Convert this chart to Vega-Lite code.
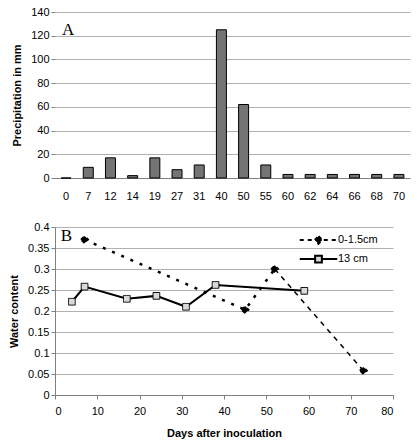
{
  "$schema": "https://vega.github.io/schema/vega-lite/v6.json",
  "padding": {"left": 8, "top": 6, "right": 5, "bottom": 5},
  "background": "white",
  "spacing": 20,
  "resolve": {"scale": {"strokeDash": "independent"}, "legend": {"strokeDash": "independent"}},
  "config": {
    "view": {"stroke": null},
    "font": "Liberation Sans",
    "axis": {
      "labelFont": "Liberation Sans",
      "labelFontSize": 11,
      "labelColor": "black",
      "titleFont": "Liberation Sans",
      "titleFontSize": 11,
      "titleFontWeight": "bold",
      "titleColor": "black",
      "gridColor": "#b0b0b0",
      "domainColor": "#808080",
      "tickColor": "#808080",
      "tickSize": 4
    },
    "legend": {"labelFont": "Liberation Sans", "labelFontSize": 11, "labelColor": "black", "padding": 0}
  },
  "datasets": {
    "precip": [
      {"day": 0, "mm": 0}, {"day": 7, "mm": 9}, {"day": 12, "mm": 17}, {"day": 14, "mm": 2},
      {"day": 19, "mm": 17}, {"day": 27, "mm": 7}, {"day": 31, "mm": 11}, {"day": 40, "mm": 125},
      {"day": 50, "mm": 62}, {"day": 55, "mm": 11}, {"day": 60, "mm": 3}, {"day": 62, "mm": 3},
      {"day": 64, "mm": 3}, {"day": 66, "mm": 3}, {"day": 68, "mm": 3}, {"day": 70, "mm": 3}
    ],
    "water": [
      {"series": "0-1.5cm", "day": 7, "wc": 0.37},
      {"series": "0-1.5cm", "day": 45, "wc": 0.203},
      {"series": "0-1.5cm", "day": 52, "wc": 0.3},
      {"series": "0-1.5cm", "day": 73, "wc": 0.058},
      {"series": "13 cm", "day": 4, "wc": 0.222},
      {"series": "13 cm", "day": 7, "wc": 0.258},
      {"series": "13 cm", "day": 17, "wc": 0.229},
      {"series": "13 cm", "day": 24, "wc": 0.236},
      {"series": "13 cm", "day": 31, "wc": 0.21},
      {"series": "13 cm", "day": 38, "wc": 0.262},
      {"series": "13 cm", "day": 59, "wc": 0.248}
    ]
  },
  "vconcat": [
    {
      "width": 355,
      "height": 166,
      "encoding": {
        "x": {"field": "day", "type": "ordinal",
              "scale": {"paddingInner": 0.55, "paddingOuter": 0.275},
              "axis": {"title": null, "labelAngle": 0, "labelPadding": 12, "ticks": false}},
        "y": {"field": "mm", "type": "quantitative",
              "scale": {"domain": [0, 140]},
              "axis": {"title": "Precipitation in mm", "values": [0, 20, 40, 60, 80, 100, 120, 140], "domain": false, "titlePadding": 8}}
      },
      "layer": [
        {
          "data": {"name": "precip"},
          "mark": {"type": "bar", "fill": "#747474", "stroke": "black", "strokeWidth": 1}
        },
        {
          "data": {"values": [{"day": 0, "mm": 121, "label": "A"}]},
          "mark": {"type": "text", "font": "Liberation Serif", "fontSize": 17, "align": "center", "dx": 2, "baseline": "alphabetic"},
          "encoding": {
            "text": {"field": "label"}
          }
        }
      ]
    },
    {
      "width": 338,
      "height": 168,
      "resolve": {"scale": {"strokeDash": "independent"}, "legend": {"strokeDash": "independent"}},
      "encoding": {
        "x": {"field": "day", "type": "quantitative",
              "scale": {"domain": [0, 80]},
              "axis": {"title": "Days after inoculation", "values": [0, 10, 20, 30, 40, 50, 60, 70, 80], "grid": false, "labelPadding": 6, "titlePadding": 11}},
        "y": {"field": "wc", "type": "quantitative",
              "scale": {"domain": [0, 0.4]},
              "axis": {"title": "Water content", "values": [0, 0.05, 0.1, 0.15, 0.2, 0.25, 0.3, 0.35, 0.4], "format": "~f", "titlePadding": 8}}
      },
      "layer": [
        {
          "data": {"name": "water"},
          "transform": [{"filter": "datum.series === '13 cm'"}],
          "mark": {"type": "line", "color": "black", "strokeWidth": 2}
        },
        {
          "data": {"name": "water"},
          "transform": [{"filter": "datum.series === '0-1.5cm' && datum.day <= 52"}],
          "mark": {"type": "line", "color": "black", "strokeWidth": 2.5, "strokeDash": [3, 7]}
        },
        {
          "data": {"name": "water"},
          "transform": [{"filter": "datum.series === '0-1.5cm' && datum.day >= 52"}],
          "mark": {"type": "line", "color": "black", "strokeWidth": 1.5, "strokeDash": [5, 5]}
        },
        {
          "data": {"name": "water"},
          "transform": [{"filter": "datum.series === '0-1.5cm'"}],
          "mark": {"type": "point", "shape": "diamond", "filled": true, "fill": "black", "stroke": "black", "strokeWidth": 1.5, "size": 55, "opacity": 1},
          "encoding": {
            "strokeDash": {"datum": "0-1.5cm", "type": "nominal",
                           "scale": {"domain": ["0-1.5cm"], "range": [[4, 4]]},
                           "legend": {
                             "title": null,
                             "orient": "none",
                             "legendX": 255,
                             "legendY": 4.5,
                             "symbolType": "M-2.5,0H2.5M0,-0.5L0.5,0L0,0.5L-0.5,0Z",
                             "symbolSize": 225,
                             "symbolStrokeWidth": 2,
                             "labelOffset": 11
                           }}
          }
        },
        {
          "data": {"name": "water"},
          "transform": [{"filter": "datum.series === '13 cm'"}],
          "mark": {"type": "point", "shape": "square", "filled": true, "fill": "#d9d9d9", "stroke": "black", "strokeWidth": 1, "size": 45, "opacity": 1},
          "encoding": {
            "strokeDash": {"datum": "13 cm", "type": "nominal",
                           "scale": {"domain": ["13 cm"], "range": [[1, 0]]},
                           "legend": {
                             "title": null,
                             "orient": "none",
                             "legendX": 255,
                             "legendY": 23.5,
                             "symbolType": "M-2.5,0H-0.45M0.45,0H2.5M-0.45,-0.45H0.45V0.45H-0.45Z",
                             "symbolSize": 225,
                             "symbolStrokeWidth": 2,
                             "labelOffset": 11
                           }}
          }
        },
        {
          "data": {"values": [{"day": 2.7, "wc": 0.366, "label": "B"}]},
          "mark": {"type": "text", "font": "Liberation Serif", "fontSize": 17, "align": "center", "baseline": "alphabetic"},
          "encoding": {
            "text": {"field": "label"}
          }
        }
      ]
    }
  ]
}
